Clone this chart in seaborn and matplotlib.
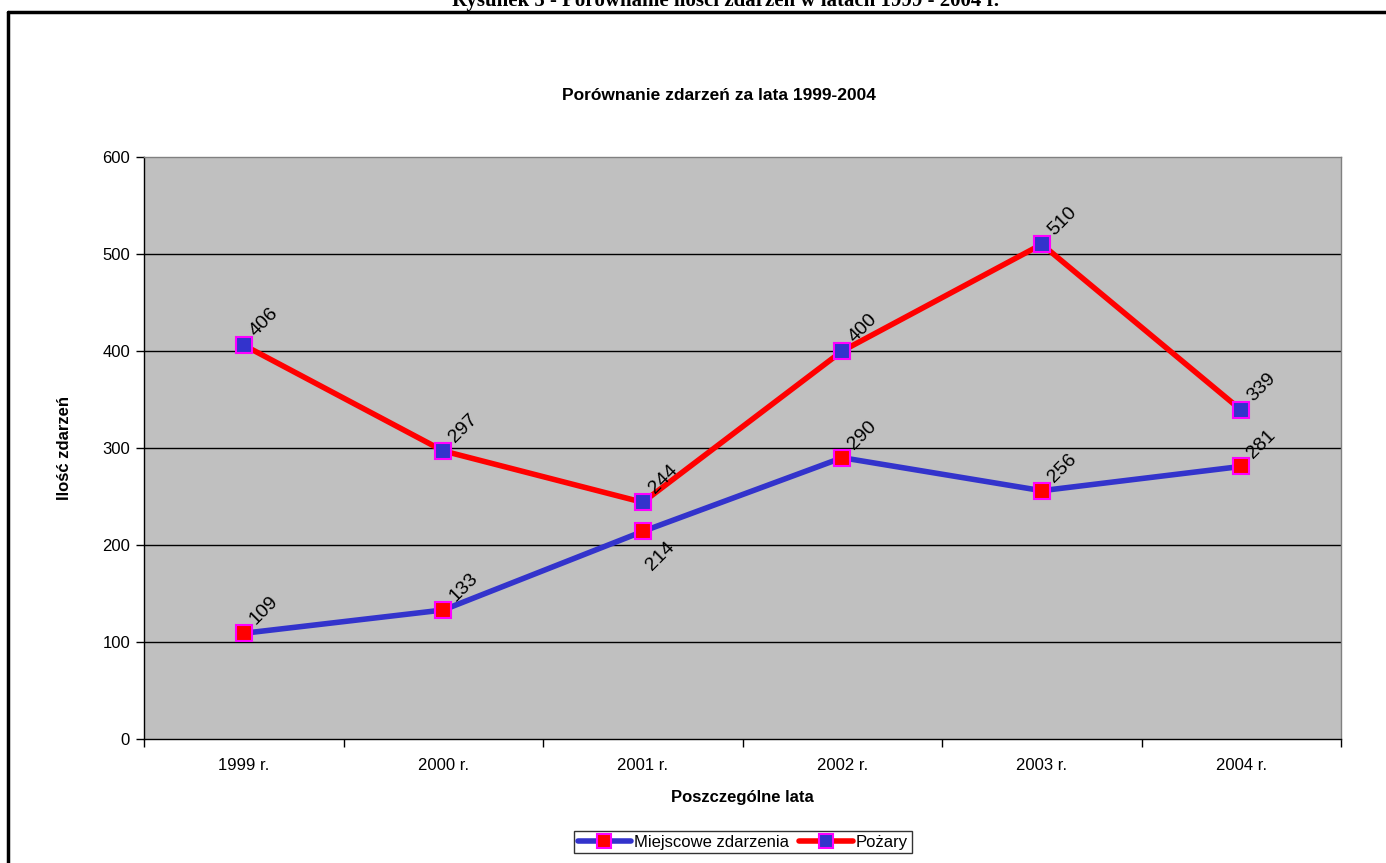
import matplotlib
matplotlib.use("Agg")
import matplotlib.pyplot as plt
import seaborn as sns
import pandas as pd
import numpy as np
from matplotlib.lines import Line2D

years = ["1999 r.", "2000 r.", "2001 r.", "2002 r.", "2003 r.", "2004 r."]
miejscowe = [109, 133, 214, 290, 256, 281]
pozary = [406, 297, 244, 400, 510, 339]
series_names = ["Miejscowe zdarzenia", "Pożary"]
yticks = [0, 100, 200, 300, 400, 500, 600]

sns.set_theme(style="white")
plt.rcParams["font.family"] = ["Liberation Sans", "DejaVu Sans"]
plt.rcParams["text.color"] = "black"
plt.rcParams["axes.labelcolor"] = "black"
plt.rcParams["xtick.color"] = "black"
plt.rcParams["ytick.color"] = "black"

df = pd.DataFrame({
    "pos": list(range(len(years))) * 2,
    "value": miejscowe + pozary,
    "series": [series_names[0]] * len(years) + [series_names[1]] * len(years),
})

fig = plt.figure(figsize=(13.86, 8.63), dpi=100)
W, H = 1386, 863
ax = fig.add_axes([144 / W, 1 - 739 / H, (1341 - 144) / W, (739 - 157) / H])
ax.set_facecolor("#C0C0C0")

blue = "#3333CC"
red = "#FF0000"
mag = "#FF00FF"
styles = {
    series_names[0]: dict(color=blue, mfc=red),
    series_names[1]: dict(color=red, mfc=blue),
}

for name in series_names:
    sub = df[df["series"] == name]
    sns.lineplot(data=sub, x="pos", y="value", ax=ax, color=styles[name]["color"],
                 linewidth=4, marker="s", markersize=12,
                 markerfacecolor=styles[name]["mfc"], markeredgecolor=mag,
                 markeredgewidth=1.5, legend=False, zorder=3)

# gridlines
for y in yticks[1:-1]:
    ax.axhline(y, color="black", linewidth=1, zorder=1)

ax.set_xlim(-0.5, len(years) - 0.5)
ax.set_ylim(0, 600)
ax.set_yticks(yticks)
ax.set_yticklabels([str(v) for v in yticks], fontsize=12)
ax.set_xticks(range(len(years)))
ax.set_xticklabels(years, fontsize=12)
ax.set_xticks(np.arange(-0.5, len(years), 1.0), minor=True)
ax.tick_params(axis="x", which="major", length=0, pad=14, colors="black")
ax.tick_params(axis="x", which="minor", length=6, width=1, direction="out", color="black", bottom=True)
ax.tick_params(axis="y", length=6, width=1, direction="out", color="black", left=True, pad=4)
ax.grid(False)

for s in ["left", "bottom"]:
    ax.spines[s].set_color("black")
    ax.spines[s].set_linewidth(1)
for s in ["top", "right"]:
    ax.spines[s].set_color("#808080")
    ax.spines[s].set_linewidth(1)

ax.set_xlabel("Poszczególne lata", fontsize=12, fontweight="bold", labelpad=12)
ax.set_ylabel("Ilość zdarzeń", fontsize=12, fontweight="bold", labelpad=22)

# data labels
below = {(0, 2)}
for si, vals in enumerate([miejscowe, pozary]):
    for i, v in enumerate(vals):
        if (si, i) in below:
            off = (12, -42)
        else:
            off = (15, 5)
        ax.annotate(str(v), (i, v), xytext=off, textcoords="offset pixels",
                    rotation=45, rotation_mode="anchor", ha="left", va="bottom",
                    fontsize=14, color="black", zorder=4)

fig.text(719 / W, 1 - 96 / H, "Porównanie zdarzeń za lata 1999-2004", ha="center", va="center",
         fontsize=12.5, fontweight="bold")

fig.text(726 / W, 1 - 6 / H, "Rysunek 5 - Porównanie ilości zdarzeń w latach 1999 - 2004 r.",
         ha="center", va="baseline", fontsize=15, fontweight="bold",
         family=["Liberation Serif", "DejaVu Serif"])

# outer frame
fig.add_artist(Line2D([7.5 / W, 1.0], [1 - 12 / H, 1 - 12 / H], color="black", linewidth=2.5,
                      transform=fig.transFigure))
fig.add_artist(Line2D([8 / W, 8 / W], [0, 1 - 12 / H], color="black", linewidth=2.5,
                      transform=fig.transFigure))

handles = [
    Line2D([], [], color=blue, linewidth=4, marker="s", markersize=10, markerfacecolor=red,
           markeredgecolor=mag, markeredgewidth=1.5),
    Line2D([], [], color=red, linewidth=4, marker="s", markersize=10, markerfacecolor=blue,
           markeredgecolor=mag, markeredgewidth=1.5),
]
leg = fig.legend(handles, series_names, loc="center", bbox_to_anchor=(743 / W, 1 - 842 / H),
                 ncol=2, fontsize=12, frameon=True, fancybox=False, edgecolor="black",
                 handlelength=3.2, handletextpad=0.2, columnspacing=0.6, borderpad=0.2)
leg.get_frame().set_linewidth(1)

fig.savefig("out.png", dpi=100)
